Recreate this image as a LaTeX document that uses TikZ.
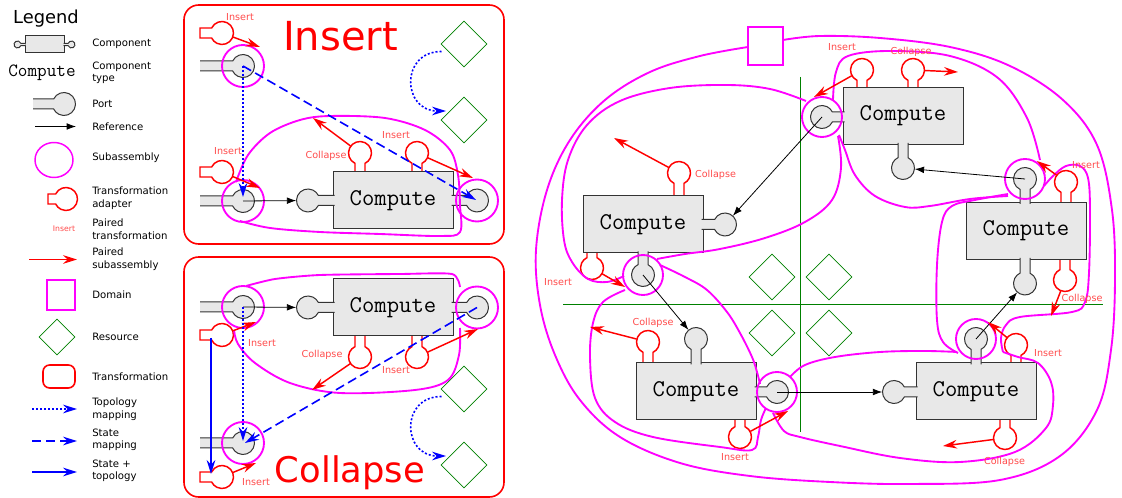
\documentclass[tikz,border=0pt]{standalone}
\usepackage{fontspec}
\setmainfont{DejaVu Sans}
\usetikzlibrary{arrows.meta,shapes.geometric,calc}
\definecolor{cgray}{HTML}{E8E8E8}
\definecolor{mag}{HTML}{FF00FF}
\definecolor{grn}{HTML}{008000}
\definecolor{lbl}{HTML}{FF4A4A}
\definecolor{blu}{HTML}{0000FF}
\tikzset{
 portline/.style={draw=black!80,line width=0.75pt},
 adline/.style={draw=red,line width=1.1pt,fill=white},
 pnode/.style={circle,inner sep=0pt,minimum size=17.25pt,draw=none},
 cbox/.style={fill=cgray,draw=black!80,line width=0.75pt},
 cmpbox/.style={cbox,minimum width=90pt,minimum height=42.75pt,inner sep=0pt,font=\fontsize{18}{18}\ttfamily},
 sub/.style={draw=mag,line width=1.4pt},
 res/.style={diamond,aspect=1,draw=grn,line width=0.6pt,inner sep=0pt,minimum size=34.5pt},
 rarr/.style={draw=red,line width=1.1pt,-{Stealth[length=10.5pt,width=6.5pt,inset=3.5pt]}},
 barr/.style={draw=black,line width=0.6pt,-{Latex[length=7pt,width=5pt]}},
 blarr/.style={draw=blu,line width=1.2pt,-{Stealth[length=10.5pt,width=6.5pt,inset=3.5pt]}},
 topo/.style={blarr,dash pattern=on 1.5pt off 1.5pt},
 statem/.style={blarr,dash pattern=on 7pt off 3.5pt},
 lab/.style={text=lbl,font=\fontsize{7.2}{8}\selectfont,inner sep=0pt},
 ltext/.style={font=\fontsize{7.6}{9.4}\selectfont,align=left,anchor=west,inner sep=0pt},
 frame/.style={draw=red,line width=1.2pt,rounded corners=11pt},
 grnline/.style={draw=grn,line width=0.6pt},
}
\newcommand\mkport[5]{%
  \begin{scope}[shift={(#2,#3)},rotate=#4]
    \fill[cgray] (#5,5) -- (10.36,5) arc[start angle=25.77,end angle=334.23,radius=11.5] -- (#5,-5) -- cycle;
    \draw[portline] (#5,5) -- (10.36,5) arc[start angle=25.77,end angle=334.23,radius=11.5] -- (#5,-5);
  \end{scope}
  \node[pnode] (#1) at (#2,#3) {};}
\newcommand\mkadapt[5]{%
  \begin{scope}[shift={(#2,#3)},rotate=#4]
    \draw[adline] (#5,5) -- (10.36,5) arc[start angle=25.77,end angle=334.23,radius=11.5] -- (#5,-5) -- cycle;
  \end{scope}
  \node[pnode] (#1) at (#2,#3) {};}
\begin{document}
\begin{tikzpicture}[x=0.75pt,y=-0.75pt]
\useasboundingbox (0,0) rectangle (1122,498);

% ================= LEGEND =================
\node[font=\fontsize{13.4}{14}\selectfont,anchor=base,inner sep=0pt] (legT) at (46,23.3) {Legend};
\draw[cbox] (25,36) rectangle (64,53);
\draw[portline,fill=cgray] (25.5,45.7) -- (20.79,45.7) arc[start angle=20,end angle=340,radius=3.5] -- (25.5,43.3);
\draw[portline,fill=cgray] (63.5,43.3) -- (68.21,43.3) arc[start angle=200,end angle=520,radius=3.5] -- (63.5,45.7);
\node[ltext] (l1) at (92,44) {Component};
\node[font=\fontsize{14}{14}\ttfamily,anchor=base,inner sep=0pt] (lct) at (42,77) {Compute};
\node[ltext] (l2) at (92,73) {Component\\type};
\mkport{lport}{64}{104}{180}{31}
\node[ltext] (l3) at (92,104) {Port};
\coordinate (lr1) at (35,126.5); \coordinate (lr2) at (76,126.5);
\draw[barr] (lr1) -- (lr2);
\node[ltext] (l4) at (92,127) {Reference};
\draw[sub,line width=1.1pt] (54,160) ellipse [x radius=19, y radius=17.5];
\node[ltext] (l5) at (92,158) {Subassembly};
\mkadapt{ladp}{66}{199}{180}{18}
\node[ltext] (l6) at (92,198) {Transformation\\adapter};
\node[lab,font=\fontsize{5.8}{7}\selectfont] (l7a) at (64,229) {Insert};
\node[ltext] (l7) at (92,229) {Paired\\transformation};
\coordinate (lp1) at (29,259.5); \coordinate (lp2) at (77,259.5);
\draw[rarr] (lp1) -- (lp2);
\node[ltext] (l8) at (92,259) {Paired\\subassembly};
\node[draw=mag,line width=1.3pt,minimum width=21pt,minimum height=22.5pt,inner sep=0pt] (ldom) at (61,295) {};
\node[ltext] (l9) at (92,295) {Domain};
\node[res,minimum size=27pt] (lres) at (57,337) {};
\node[ltext] (l10) at (92,337) {Resource};
\node[draw=red,line width=1.2pt,rounded corners=5pt,minimum width=24pt,minimum height=17.25pt,inner sep=0pt] (ltr) at (59,376.5) {};
\node[ltext] (l11) at (92,377) {Transformation};
\coordinate (lt1) at (32,409); \coordinate (lt2) at (77,409);
\draw[topo] (lt1) -- (lt2);
\node[ltext] (l12) at (92,409) {Topology\\mapping};
\coordinate (ls1) at (32,441); \coordinate (ls2) at (77,441);
\draw[statem] (ls1) -- (ls2);
\node[ltext] (l13) at (92,440) {State\\mapping};
\coordinate (lb1) at (32,472); \coordinate (lb2) at (77,472);
\draw[blarr] (lb1) -- (lb2);
\node[ltext] (l14) at (92,471) {State +\\topology};

% ================= INSERT PANEL =================
\draw[frame] (184,5) rectangle (504,244);
\node[text=red,font=\fontsize{30}{30}\selectfont,anchor=base,inner sep=0pt] (insT) at (340.5,51) {Insert};
\node[res] (dI1) at (464,44) {};
\node[res] (dI2) at (464,120) {};
\mkadapt{aI1}{360}{153}{270}{21}
\mkadapt{aI2}{417}{153}{270}{21}
\node[cmpbox] (CI) at (393,200.5) {Compute};
\mkport{pI1}{243}{66}{180}{43}
\mkport{pI2}{243}{201}{180}{43}
\mkport{pIL}{308}{200.5}{0}{26.5}
\mkport{pIR}{477}{200.5}{180}{25.5}
\mkadapt{aI3}{222}{33}{180}{22}
\mkadapt{aI4}{222}{172}{180}{22}
\draw[sub] (pI1.center) circle (21);
\draw[sub] (pI2.center) circle (21);
\draw[sub] (pIR.center) circle (21);
\draw[sub] plot[smooth,tension=0.55] coordinates {(236,182) (248,155) (270,133) (300,120) (330,116) (385,118) (425,130) (450,150) (458,175) (460,205) (460,232) (440,236) (380,234) (320,232) (270,228) (240,221)};
\coordinate (tI1) at (260,47); \coordinate (tI2) at (260,188);
\coordinate (tI3) at (313,118); \coordinate (tI4) at (473,178);
\draw[rarr] (aI3) -- (tI1);
\draw[rarr] (aI4) -- (tI2);
\draw[rarr] (aI1) -- (tI3);
\draw[rarr] (aI2) -- (tI4);
\draw[barr] (pI2.center) -- (pIL);
\coordinate (tI5) at (243,197); \coordinate (tI6) at (476,200);
\draw[topo] (pI1.center) -- (tI5);
\draw[statem] (pI1.center) -- (tI6);
\coordinate (dIa) at (441.5,51.5); \coordinate (dIb) at (446,111);
\draw[topo] (dIa) .. controls (400,51.5) and (402,111) .. (dIb);
\node[lab] (liI1) at (240,17) {Insert};
\node[lab] (liI2) at (228,151) {Insert};
\node[lab] (liI3) at (326,156) {Collapse};
\node[lab] (liI4) at (396,135) {Insert};

% ================= COLLAPSE PANEL =================
\draw[frame] (184,257) rectangle (504,497);
\node[text=red,font=\fontsize{26.5}{27}\selectfont,anchor=base,inner sep=0pt] (colT) at (350,483) {Collapse};
\node[res] (dC1) at (464,389) {};
\node[res] (dC2) at (464,465) {};
\mkadapt{aC1}{360}{357}{90}{23}
\mkadapt{aC2}{417}{357}{90}{23}
\node[cmpbox] (CC) at (393,307.5) {Compute};
\mkport{pC1}{243}{307}{180}{43}
\mkport{pC2}{243}{443}{180}{43}
\mkport{pCL}{308}{307.5}{0}{26.5}
\mkport{pCR}{477}{307.5}{180}{25.5}
\mkadapt{aC3}{222}{335}{180}{22}
\mkadapt{aC4}{222}{477}{180}{22}
\draw[sub] (pC1.center) circle (21);
\draw[sub] (pC2.center) circle (21);
\draw[sub] (pCR.center) circle (21);
\draw[sub] plot[smooth,tension=0.4] coordinates {(246,286) (275,279) (320,275) (400,274) (452,274) (460,287)};
\draw[sub] plot[smooth,tension=0.55] coordinates {(460,328) (459,355) (448,380) (415,390) (340,393) (290,383) (255,363) (238,344) (234,330)};
\coordinate (tC1) at (256,322); \coordinate (tC2) at (256,463);
\coordinate (tC3) at (312,390); \coordinate (tC4) at (478,329);
\draw[rarr] (aC3) -- (tC1);
\draw[rarr] (aC4) -- (tC2);
\draw[rarr] (aC1) -- (tC3);
\draw[rarr] (aC2) -- (tC4);
\draw[barr] (pC1.center) -- (pCL);
\coordinate (tC5) at (243,441); \coordinate (tC6) at (245,443);
\draw[topo] (pC1.center) -- (tC5);
\draw[statem] (pCR.center) -- (tC6);
\coordinate (bC1) at ($(aC3)+(-11,3)$); \coordinate (bC2) at ($(aC4)+(-11,-3)$);
\draw[blarr] (bC1) -- (bC2);
\coordinate (dCa) at (441.5,396.5); \coordinate (dCb) at (446,456);
\draw[topo] (dCa) .. controls (400,396.5) and (402,456) .. (dCb);
\node[lab] (liC1) at (262,343) {Insert};
\node[lab] (liC2) at (256,482) {Insert};
\node[lab] (liC3) at (322,355) {Collapse};
\node[lab] (liC4) at (396,370) {Insert};

% ================= RIGHT ASSEMBLY =================
\draw[grnline] (800,77) -- (800,432);
\draw[grnline] (563,304) -- (1103,304);
\node[res] (r1) at (772,277) {};
\node[res] (r2) at (772,333) {};
\node[res] (r3) at (829,277) {};
\node[res] (r4) at (829,333) {};
\node[draw=mag,line width=1.4pt,minimum width=26.25pt,minimum height=28.5pt,inner sep=0pt] (dom) at (765.5,46) {};

% adapters (behind boxes)
\mkadapt{a1a}{862}{70}{270}{19.5}
\mkadapt{a1b}{913}{70}{270}{19.5}
\mkadapt{a2T}{679}{173}{270}{25}
\mkadapt{a2B}{592}{268}{90}{17}
\mkadapt{a3T}{648}{342}{270}{23}
\mkadapt{a3B}{740}{437}{90}{19}
\mkadapt{a4T}{1016}{345}{270}{20}
\mkadapt{a4B}{1005}{438}{90}{20}
\mkadapt{a5T}{1066}{182}{270}{22.5}
\mkadapt{a5B}{1065}{280}{90}{22.5}
% boxes
\node[cmpbox] (C1) at (903,116) {Compute};
\node[cmpbox] (C2) at (643,224.5) {Compute};
\node[cmpbox] (C3) at (696,391.5) {Compute};
\node[cmpbox] (C4) at (976,391.5) {Compute};
\node[cmpbox] (C5) at (1026,231) {Compute};
% ports
\mkport{p1L}{822}{117}{0}{22.5}
\mkport{p1B}{903}{168}{90}{25}
\mkport{p2R}{725}{224.5}{180}{23.5}
\mkport{p2B}{643}{275}{90}{23.5}
\mkport{p3T}{696}{339}{270}{25.5}
\mkport{p3R}{777}{392}{180}{22.5}
\mkport{p4L}{894}{392}{0}{23.5}
\mkport{p4T}{976}{339}{270}{25.5}
\mkport{p5T}{1025}{179}{270}{25}
\mkport{p5B}{1025}{283.5}{90}{25.5}

% subassemblies
\draw[sub] (p1L.center) circle (20);
\draw[sub] (p2B.center) circle (20);
\draw[sub] (p3R.center) circle (20);
\draw[sub] (p4T.center) circle (20);
\draw[sub] (p5T.center) circle (20);
% domain loop
\draw[sub] plot[smooth,tension=0.6] coordinates {(748,47) (700,56) (650,72) (605,100) (570,140) (547,190) (536,250) (540,305) (555,355) (580,400) (620,437) (680,463) (750,476) (830,482) (910,484) (1000,480) (1060,456) (1097,410) (1111,350) (1115,280) (1112,210) (1097,145) (1063,100) (1010,66) (950,47) (880,38) (820,36) (783,40)};
% loop A
\draw[sub] plot[smooth,tension=0.6] coordinates {(806,101) (770,89) (727,85) (670,88) (620,101) (587,125) (568,160) (562,200) (564,240) (572,262) (588,279) (607,282) (624,276)};
\draw[sub] plot[smooth,tension=0.6] coordinates {(657,259) (685,254) (720,249) (765,238) (805,222) (832,200) (841,168) (838,136)};
% loop B
\draw[sub] plot[smooth,tension=0.6] coordinates {(833,100) (836,72) (848,56) (890,51) (950,56) (998,78) (1027,118) (1040,160)};
\draw[sub] plot[smooth,tension=0.6] coordinates {(1008,196) (970,199) (930,206) (905,207) (875,196) (855,175) (845,150) (839,135)};
% loop C
\draw[sub] plot[smooth,tension=0.6] coordinates {(1044,186) (1053,176) (1066,166) (1080,166) (1088,178) (1090,210) (1089,273) (1085,302) (1072,312) (1020,317) (1006,325) (1001,338) (1003,352)};
\draw[sub] plot[smooth,tension=0.6] coordinates {(1008,194) (975,200) (952,206) (942,222) (937,265) (937,320) (943,342) (958,353)};
% loop D
\draw[sub] plot[smooth,tension=0.6] coordinates {(790,377) (805,365) (835,357) (880,352) (925,351) (957,352)};
\draw[sub] plot[smooth,tension=0.6] coordinates {(1003,352) (1018,357) (1038,363) (1051,382) (1053,405) (1046,428) (1015,452) (960,462) (900,458) (840,446) (800,437) (784,431) (773,413)};
% loop E
\draw[sub] plot[smooth,tension=0.6] coordinates {(660,265) (685,277) (707,290) (727,312) (740,333) (752,357) (757,372) (760,384)};
\draw[sub] plot[smooth,tension=0.6] coordinates {(625,290) (603,302) (593,323) (590,357) (595,398) (615,422) (653,437) (720,447) (752,450) (758,437) (761,420) (766,408)};

% references
\draw[barr] (p1L.center) -- (p2R);
\draw[barr] (p2B.center) -- (p3T);
\draw[barr] (p3R.center) -- (p4L);
\draw[barr] (p4T.center) -- (p5B);
\draw[barr] (p5T.center) -- (p1B);

% paired transformations
\coordinate (t1a) at (814,97);  \coordinate (t1b) at (958,72);
\coordinate (t2T) at (614,138); \coordinate (t2B) at (625,287);
\coordinate (t3T) at (590,327); \coordinate (t3B) at (788,411);
\coordinate (t4T) at (988,322); \coordinate (t4B) at (943,446);
\coordinate (t5T) at (1037,161); \coordinate (t5B) at (1051,316);
\draw[rarr] (a1a) -- (t1a);
\draw[rarr] (a1b) -- (t1b);
\draw[rarr] (a2T) -- (t2T);
\draw[rarr] (a2B) -- (t2B);
\draw[rarr] (a3T) -- (t3T);
\draw[rarr] (a3B) -- (t3B);
\draw[rarr] (a4T) -- (t4T);
\draw[rarr] (a4B) -- (t4B);
\draw[rarr] (a5T) -- (t5T);
\draw[rarr] (a5B) -- (t5B);
\node[lab] (lr1a) at (842,47) {Insert};
\node[lab] (lr1b) at (911,52) {Collapse};
\node[lab] (lr2T) at (715.5,175) {Collapse};
\node[lab] (lr2B) at (558,282) {Insert};
\node[lab] (lr3T) at (653,323) {Collapse};
\node[lab] (lr3B) at (735,457) {Insert};
\node[lab] (lr4T) at (1048,353) {Insert};
\node[lab] (lr4B) at (1004.5,462) {Collapse};
\node[lab] (lr5T) at (1086,165) {Insert};
\node[lab] (lr5B) at (1082,299) {Collapse};
\end{tikzpicture}
\end{document}
